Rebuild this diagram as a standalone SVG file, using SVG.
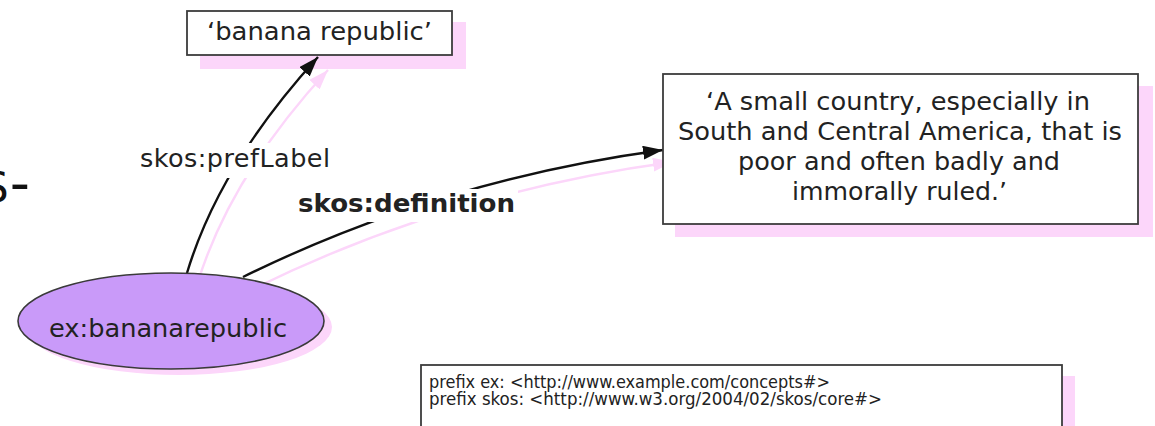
<svg xmlns="http://www.w3.org/2000/svg" width="1155" height="426" viewBox="0 0 1155 426">
  <defs>
    <marker id="arrow" viewBox="0 0 20 14" refX="20" refY="7" markerWidth="20" markerHeight="14" markerUnits="userSpaceOnUse" orient="auto">
      <path d="M0,0 L20,7 L0,14 Z" fill="#111"/>
    </marker>
    <marker id="arrow-shadow" viewBox="0 0 20 14" refX="20" refY="7" markerWidth="20" markerHeight="14" markerUnits="userSpaceOnUse" orient="auto">
      <path d="M0,0 L20,7 L0,14 Z" fill="#fcd6fa"/>
    </marker>
    <style>
      .txt { font-family: "DejaVu Sans", Verdana, sans-serif; fill: #222; }
      .lbl { font-size: 25.5px; }
      .small { font-family: "DejaVu Sans Condensed", "DejaVu Sans", sans-serif; font-size: 17px; fill: #222; }
      .box { fill: #fff; stroke: #3c3c3c; stroke-width: 1.8; }
      .shadow { fill: #fcd6fa; stroke: none; }
      .edge { fill: none; stroke: #111; stroke-width: 2.4; }
      .edge-shadow { fill: none; stroke: #fcd6fa; stroke-width: 2.4; }
      .label-bg { fill: #fff; }
    </style>
  </defs>

  <rect width="1155" height="426" fill="#fff"/>

  <!-- clipped heading fragment at the left edge -->
  <text x="-18" y="202" font-family="DejaVu Sans, sans-serif" font-size="42" fill="#111">S<tspan dx="1" font-size="56">-</tspan></text>

  <!-- drop shadows -->
  <g id="shadows">
    <rect class="shadow" x="200" y="22" width="266" height="47"/>
    <rect class="shadow" x="675" y="86" width="478" height="151"/>
    <ellipse class="shadow" cx="179" cy="327" rx="153" ry="48"/>
    <rect class="shadow" x="433" y="376" width="642" height="60"/>
  </g>

  <!-- connectors -->
  <g id="connectors">
    <path class="edge-shadow" d="M197,285 Q229.5,177 328,70" marker-end="url(#arrow-shadow)"/>
    <path class="edge-shadow" d="M253,289 Q450,192 673,162" marker-end="url(#arrow-shadow)"/>
    <path class="edge" d="M187,273 Q219.5,165 318,57" marker-end="url(#arrow)"/>
    <path class="edge" d="M243,277 Q440,180 663,150" marker-end="url(#arrow)"/>
    <g id="label-prefLabel">
      <rect class="label-bg" x="137" y="143" width="196" height="35"/>
      <text class="txt lbl" x="140" y="167" textLength="190" lengthAdjust="spacing">skos:prefLabel</text>
    </g>
    <g id="label-definition">
      <rect class="label-bg" x="295" y="189" width="223" height="33"/>
      <text class="txt" x="298" y="212" font-size="25" font-weight="bold" textLength="217" lengthAdjust="spacingAndGlyphs">skos:definition</text>
    </g>
  </g>

  <!-- nodes -->
  <g id="node-prefLabel">
    <rect class="box" x="187" y="11" width="265" height="44"/>
    <text class="txt lbl" x="319.5" y="40" text-anchor="middle" textLength="225" lengthAdjust="spacingAndGlyphs">‘banana republic’</text>
  </g>

  <g id="node-definition">
    <rect class="box" x="663" y="74" width="475" height="150"/>
    <g class="txt lbl" text-anchor="middle">
      <text x="898" y="110" textLength="384" lengthAdjust="spacingAndGlyphs">‘A small country, especially in</text>
      <text x="900" y="140" textLength="444" lengthAdjust="spacingAndGlyphs">South and Central America, that is</text>
      <text x="899" y="170" textLength="322" lengthAdjust="spacingAndGlyphs">poor and often badly and</text>
      <text x="899.5" y="200" textLength="215" lengthAdjust="spacingAndGlyphs">immorally ruled.’</text>
    </g>
  </g>

  <g id="node-concept">
    <ellipse cx="171" cy="321" rx="153" ry="48" fill="#c99af9" stroke="#3a3a3a" stroke-width="1.6"/>
    <text class="txt lbl" x="168" y="337" text-anchor="middle" textLength="238" lengthAdjust="spacingAndGlyphs">ex:bananarepublic</text>
  </g>

  <g id="node-prefixes">
    <rect class="box" x="421" y="365" width="641" height="80"/>
    <text class="small" x="429" y="388" textLength="401" lengthAdjust="spacingAndGlyphs">prefix ex: &lt;http://www.example.com/concepts#&gt;</text>
    <text class="small" x="429" y="405" textLength="453" lengthAdjust="spacingAndGlyphs">prefix skos: &lt;http://www.w3.org/2004/02/skos/core#&gt;</text>
  </g>
</svg>
